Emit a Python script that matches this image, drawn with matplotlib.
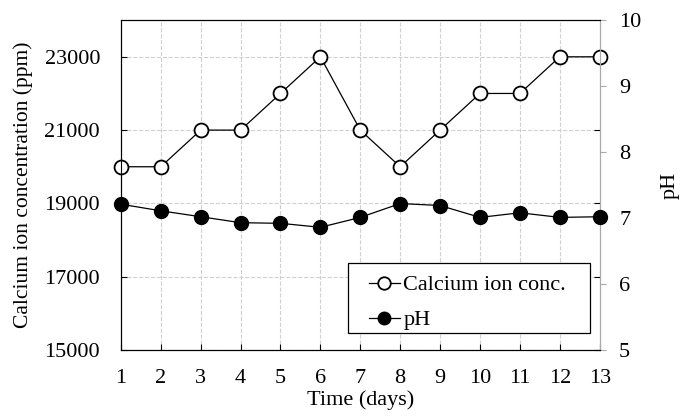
import matplotlib
matplotlib.use("Agg")
import matplotlib.pyplot as plt
from matplotlib.patches import Rectangle

days = list(range(1, 14))
calcium = [20000, 20000, 21000, 21000, 22000, 23000, 21000, 20000, 21000, 22000, 22000, 23000, 23000]
ph = [7.21, 7.11, 7.02, 6.93, 6.92, 6.86, 7.01, 7.22, 7.19, 7.01, 7.08, 7.01, 7.02]
left_ticks = [15000, 17000, 19000, 21000, 23000]
right_ticks = [5, 6, 7, 8, 9, 10]

plt.rcParams['font.family'] = ['Liberation Serif', 'DejaVu Serif']
plt.rcParams['font.size'] = 16

fig = plt.figure(figsize=(6.83, 4.2), dpi=100)
ax = fig.add_axes([0.177, 0.1667, 0.701, 0.7853])
ax2 = ax.twinx()

l1, = ax.plot(days, calcium, color='black', lw=0.9, marker='o', ms=10,
              mfc='white', mec='black', mew=1.3, label='Calcium ion conc.', zorder=5, clip_on=False)
l2, = ax2.plot(days, ph, color='black', lw=0.9, marker='o', ms=10,
               mfc='black', mec='black', label='pH', zorder=5, clip_on=False)

ax.set_xlim(1, 13)
ax.set_ylim(15000, 24000)
ax.set_yticks(left_ticks)
ax.set_xticks(days)
ax2.set_ylim(5, 10)
ax2.set_yticks(right_ticks)

ax.grid(True, ls='--', color='#d0d0d0', lw=0.8)
ax.set_axisbelow(True)

ax.tick_params(axis='x', direction='in', length=4, pad=14, labelsize=16)
ax.tick_params(axis='y', direction='in', length=4, pad=15, labelsize=16,
               right=True, labelright=False)
ax2.tick_params(axis='y', direction='out', length=4, color='#aaaaaa', pad=10, labelsize=16)

for s in ['left', 'bottom', 'top']:
    ax.spines[s].set_color('black')
    ax2.spines[s].set_color('black')
ax2.spines['right'].set_color('#aaaaaa')
ax.spines['right'].set_color('#aaaaaa')
for t in ax.yaxis.get_major_ticks():
    t.tick2line.set_color('#bbbbbb')

ax.set_xlabel('Time (days)', labelpad=1, fontsize=16)
ax.set_ylabel('Calcium ion concentration (ppm)', labelpad=8, fontsize=15.5)
ax2.set_ylabel('pH', labelpad=14, fontsize=16)

frame = Rectangle((0.474, 0.0515), 0.505, 0.212, transform=ax2.transAxes,
                  facecolor='white', edgecolor='black', lw=0.9, zorder=9)
ax2.add_patch(frame)
leg = ax2.legend([l1, l2], ['Calcium ion conc.', 'pH'], loc='upper left',
                 bbox_to_anchor=(0.518, 0.228), frameon=False, markerscale=0.9,
                 handlelength=1.4, handletextpad=0.15,
                 borderpad=0.0, labelspacing=0.65, borderaxespad=0.0, fontsize=16)
leg.set_zorder(10)

fig.savefig('out.png', dpi=100)
